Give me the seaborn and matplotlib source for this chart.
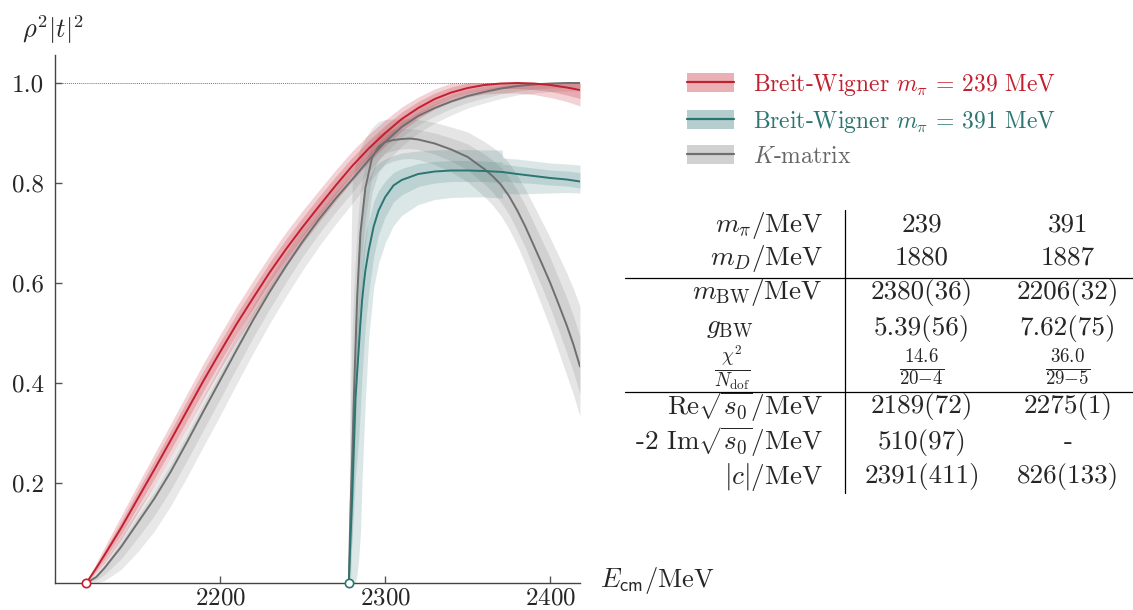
import numpy as np
import pandas as pd
import matplotlib
matplotlib.use("Agg")
import matplotlib.pyplot as plt
import seaborn as sns
from matplotlib.patches import Patch
from matplotlib.lines import Line2D

# ---------------- data ----------------
# m_pi = 239 MeV : Breit-Wigner and K-matrix
E239 = [2119, 2125, 2130, 2140, 2150, 2160, 2170, 2180, 2190, 2200, 2210, 2220, 2230, 2240, 2250, 2260,
        2270, 2280, 2290, 2300, 2310, 2320, 2330, 2340, 2350, 2360, 2370, 2380, 2390, 2400, 2410, 2418]
bw239 = [0.000, 0.030, 0.056, 0.110, 0.168, 0.226, 0.285, 0.345, 0.405, 0.462, 0.518, 0.570, 0.621, 0.668,
         0.712, 0.754, 0.795, 0.834, 0.869, 0.900, 0.928, 0.950, 0.968, 0.981, 0.990, 0.996, 0.999, 1.000,
         0.999, 0.996, 0.991, 0.986]
bw239_err_in = [0, 0.006, 0.009, 0.013, 0.016, 0.018, 0.019, 0.020, 0.020, 0.020, 0.020, 0.020, 0.020, 0.020,
                0.019, 0.019, 0.018, 0.017, 0.016, 0.015, 0.014, 0.013, 0.012, 0.011, 0.010, 0.010, 0.010,
                0.011, 0.012, 0.013, 0.015, 0.017]
bw239_err_out = [0, 0.010, 0.016, 0.024, 0.028, 0.031, 0.033, 0.034, 0.035, 0.035, 0.035, 0.035, 0.034, 0.034,
                 0.033, 0.032, 0.031, 0.030, 0.028, 0.026, 0.024, 0.022, 0.020, 0.019, 0.018, 0.018, 0.019,
                 0.020, 0.022, 0.025, 0.028, 0.032]
km239 = [0.000, 0.012, 0.030, 0.072, 0.120, 0.168, 0.222, 0.282, 0.344, 0.405, 0.466, 0.526, 0.582, 0.634,
         0.683, 0.728, 0.769, 0.807, 0.846, 0.882, 0.912, 0.934, 0.950, 0.963, 0.974, 0.982, 0.989, 0.994,
         0.997, 0.999, 1.000, 1.000]
km239_lo_out = [0, 0.012, 0.025, 0.045, 0.058, 0.065, 0.068, 0.070, 0.070, 0.070, 0.068, 0.066, 0.063, 0.060,
                0.057, 0.054, 0.051, 0.048, 0.045, 0.042, 0.038, 0.034, 0.030, 0.027, 0.024, 0.022, 0.020,
                0.018, 0.017, 0.016, 0.016, 0.016]
km239_lo_in = [0, 0.006, 0.013, 0.024, 0.030, 0.034, 0.036, 0.037, 0.037, 0.037, 0.036, 0.035, 0.034, 0.032,
               0.030, 0.029, 0.027, 0.026, 0.024, 0.022, 0.020, 0.018, 0.016, 0.014, 0.013, 0.012, 0.011,
               0.010, 0.009, 0.009, 0.009, 0.009]
km239_hi_out = [0, 0.008, 0.014, 0.022, 0.026, 0.028, 0.030, 0.030, 0.030, 0.030, 0.030, 0.030, 0.029, 0.028,
                0.027, 0.026, 0.025, 0.024, 0.022, 0.020, 0.018, 0.016, 0.015, 0.014, 0.013, 0.012, 0.011,
                0.010, 0.010, 0.010, 0.010, 0.010]
km239_hi_in = [0, 0.004, 0.007, 0.011, 0.013, 0.014, 0.015, 0.015, 0.015, 0.015, 0.015, 0.015, 0.015, 0.014,
               0.014, 0.013, 0.013, 0.012, 0.011, 0.010, 0.009, 0.008, 0.008, 0.007, 0.007, 0.006, 0.006,
               0.005, 0.005, 0.005, 0.005, 0.005]

# m_pi = 391 MeV : Breit-Wigner
E391 = [2278, 2278.5, 2279, 2280, 2281, 2282, 2283, 2284, 2285, 2286, 2287, 2288, 2290, 2293, 2296, 2300,
        2305, 2310, 2320, 2330, 2340, 2350, 2360, 2371, 2371, 2380, 2390, 2400, 2410, 2418]
bw391 = [0, 0.05, 0.09, 0.17, 0.27, 0.37, 0.42, 0.47, 0.52, 0.565, 0.597, 0.625, 0.665, 0.713, 0.745, 0.772,
         0.795, 0.806, 0.818, 0.823, 0.825, 0.825, 0.824, 0.822, 0.822, 0.818, 0.814, 0.810, 0.807, 0.803]
bw391_lo_out = [0, 0.05, 0.09, 0.17, 0.27, 0.37, 0.40, 0.42, 0.42, 0.36, 0.31, 0.26, 0.175, 0.123, 0.105,
                0.092, 0.080, 0.071, 0.061, 0.056, 0.054, 0.053, 0.052, 0.052, 0.042, 0.040, 0.035, 0.030,
                0.026, 0.023]
bw391_hi_out = [0, 0.02, 0.04, 0.08, 0.12, 0.16, 0.18, 0.20, 0.19, 0.18, 0.17, 0.16, 0.145, 0.117, 0.095,
                0.076, 0.060, 0.054, 0.046, 0.043, 0.042, 0.042, 0.042, 0.044, 0.028, 0.030, 0.030, 0.030,
                0.031, 0.033]
bw391_lo_in = [0, 0.02, 0.04, 0.08, 0.12, 0.16, 0.17, 0.18, 0.17, 0.15, 0.13, 0.11, 0.085, 0.060, 0.048,
               0.040, 0.033, 0.030, 0.025, 0.023, 0.022, 0.022, 0.021, 0.021, 0.018, 0.017, 0.015, 0.014,
               0.013, 0.013]
bw391_hi_in = [0, 0.01, 0.02, 0.04, 0.06, 0.08, 0.085, 0.09, 0.085, 0.08, 0.075, 0.07, 0.060, 0.050, 0.040,
               0.032, 0.026, 0.023, 0.021, 0.020, 0.020, 0.020, 0.020, 0.020, 0.016, 0.016, 0.016, 0.016,
               0.017, 0.018]

# m_pi = 391 MeV : K-matrix
Ekm391 = [2278, 2278.5, 2279, 2280, 2281, 2282, 2283, 2285, 2288, 2292, 2296, 2300, 2305, 2310, 2315, 2320,
          2330, 2340, 2350, 2360, 2365, 2370, 2375, 2380, 2385, 2390, 2395, 2400, 2405, 2410, 2414, 2418]
km391 = [0, 0.08, 0.15, 0.25, 0.37, 0.47, 0.57, 0.70, 0.79, 0.85, 0.873, 0.882, 0.886, 0.888, 0.889, 0.887,
         0.879, 0.867, 0.852, 0.828, 0.814, 0.797, 0.774, 0.745, 0.712, 0.675, 0.638, 0.600, 0.558, 0.515,
         0.477, 0.433]
km391_hi_out = [0, 0.25, 0.45, 0.55, 0.45, 0.37, 0.28, 0.17, 0.10, 0.06, 0.05, 0.045, 0.042, 0.04, 0.04, 0.04,
                0.042, 0.045, 0.05, 0.055, 0.058, 0.062, 0.066, 0.07, 0.075, 0.08, 0.085, 0.09, 0.097, 0.105,
                0.112, 0.12]
km391_lo_out = [0, 0.08, 0.15, 0.15, 0.17, 0.17, 0.17, 0.15, 0.11, 0.07, 0.05, 0.045, 0.042, 0.04, 0.04, 0.04,
                0.042, 0.045, 0.05, 0.055, 0.058, 0.062, 0.066, 0.07, 0.075, 0.08, 0.085, 0.09, 0.095, 0.10,
                0.10, 0.10]
km391_hi_in = [0, 0.10, 0.20, 0.25, 0.22, 0.18, 0.14, 0.09, 0.05, 0.03, 0.025, 0.022, 0.021, 0.02, 0.02, 0.02,
               0.021, 0.023, 0.026, 0.03, 0.032, 0.035, 0.037, 0.04, 0.042, 0.045, 0.047, 0.05, 0.052, 0.055,
               0.057, 0.06]
km391_lo_in = [0, 0.05, 0.08, 0.09, 0.10, 0.10, 0.10, 0.08, 0.06, 0.035, 0.025, 0.022, 0.021, 0.02, 0.02, 0.02,
               0.021, 0.023, 0.026, 0.03, 0.032, 0.035, 0.037, 0.04, 0.042, 0.045, 0.047, 0.05, 0.052, 0.055,
               0.055, 0.055]

thresholds = [2119, 2278]

legend_labels = [r"Breit-Wigner $m_\pi\,=\,239$ MeV", r"Breit-Wigner $m_\pi\,=\,391$ MeV", r"$K$-matrix"]

table_rows = [r"$m_\pi/\mathrm{MeV}$", r"$m_D/\mathrm{MeV}$", r"$m_\mathrm{BW}/\mathrm{MeV}$",
              r"$g_\mathrm{BW}$", r"$\frac{\chi^2}{N_\mathrm{dof}}$", r"$\mathrm{Re}\sqrt{s_0}/\mathrm{MeV}$",
              r"-2 $\mathrm{Im}\sqrt{s_0}/\mathrm{MeV}$", r"$|c|/\mathrm{MeV}$"]
table_239 = ["239", "1880", "2380(36)", "5.39(56)", r"$\frac{14.6}{20{-}4}$", "2189(72)", "510(97)", "2391(411)"]
table_391 = ["391", "1887", "2206(32)", "7.62(75)", r"$\frac{36.0}{29{-}5}$", "2275(1)", "-", "826(133)"]

# ---------------- style ----------------
sns.set_theme(style="ticks")
plt.rcParams.update({
    "font.family": "serif",
    "font.serif": ["cmr10"],
    "mathtext.fontset": "cm",
    "axes.formatter.use_mathtext": True,
    "axes.unicode_minus": False,
})

RED = "#c2202e"
TEAL = "#2b7572"
GRAY = "#6f6f6f"
BAND_GRAY = "#8c8c8c"

W, H = 1133, 610
fig = plt.figure(figsize=(W / 100, H / 100), dpi=100)
ax = fig.add_axes([55 / W, (H - 583) / H, 525 / W, 528 / H])

def arr(x):
    return np.asarray(x, dtype=float)

# bands (K-matrix first, then Breit-Wigner)
e = arr(E239); c = arr(km239)
ax.fill_between(e, c - arr(km239_lo_out), np.minimum(c + arr(km239_hi_out), 1.0), color=BAND_GRAY, alpha=0.2, lw=0, zorder=1)
ax.fill_between(e, c - arr(km239_lo_in), np.minimum(c + arr(km239_hi_in), 1.0), color=BAND_GRAY, alpha=0.2, lw=0, zorder=1)
e = arr(Ekm391); c = arr(km391)
ax.fill_between(e, c - arr(km391_lo_out), np.minimum(c + arr(km391_hi_out), 1.0), color=BAND_GRAY, alpha=0.22, lw=0, zorder=1)
ax.fill_between(e, c - arr(km391_lo_in), np.minimum(c + arr(km391_hi_in), 1.0), color=BAND_GRAY, alpha=0.22, lw=0, zorder=1)
e = arr(E239); c = arr(bw239)
ax.fill_between(e, c - arr(bw239_err_out), np.minimum(c + arr(bw239_err_out), 1.0), color=RED, alpha=0.2, lw=0, zorder=2)
ax.fill_between(e, c - arr(bw239_err_in), np.minimum(c + arr(bw239_err_in), 1.0), color=RED, alpha=0.22, lw=0, zorder=2)
e = arr(E391); c = arr(bw391)
ax.fill_between(e, c - arr(bw391_lo_out), c + arr(bw391_hi_out), color=TEAL, alpha=0.17, lw=0, zorder=2)
ax.fill_between(e, c - arr(bw391_lo_in), c + arr(bw391_hi_in), color=TEAL, alpha=0.17, lw=0, zorder=2)

# central curves via seaborn
df = pd.concat([
    pd.DataFrame({"E": E239, "v": km239, "s": "km239"}),
    pd.DataFrame({"E": Ekm391, "v": km391, "s": "km391"}),
    pd.DataFrame({"E": E391, "v": bw391, "s": "bw391"}),
    pd.DataFrame({"E": E239, "v": bw239, "s": "bw239"}),
], ignore_index=True)
pal = {"km239": GRAY, "km391": GRAY, "bw391": TEAL, "bw239": RED}
sns.lineplot(data=df, x="E", y="v", hue="s", units="s", estimator=None, sort=False,
             palette=pal, lw=1.4, legend=False, ax=ax, zorder=3)

ax.axhline(1.0, ls=(0, (1, 1)), lw=0.7, color="#777777", zorder=0)
ax.plot([thresholds[0]], [0], ls="none", marker="o", ms=6, mfc="white", mec=RED, mew=1.2, clip_on=False, zorder=10)
ax.plot([thresholds[1]], [0], ls="none", marker="o", ms=6, mfc="white", mec=TEAL, mew=1.2, clip_on=False, zorder=11)

ax.set_xlim(2100, 2418)
ax.set_ylim(0, 1.056)
ax.set_xticks([2200, 2300, 2400])
ax.set_yticks([0.2, 0.4, 0.6, 0.8, 1.0])
ax.yaxis.set_major_formatter(matplotlib.ticker.FormatStrFormatter("%.1f"))
ax.set_xlabel("")
ax.set_ylabel("")
for s in ["top", "right"]:
    ax.spines[s].set_visible(False)
for s in ["left", "bottom"]:
    ax.spines[s].set_color("#444444")
    ax.spines[s].set_linewidth(1.0)
ax.tick_params(direction="in", length=5, width=1.0, color="#555555", labelsize=18, pad=8)
ax.tick_params(axis="x", pad=3)

fig.text(53 / W, 1 - 30 / H, r"$\rho^2|t|^2$", fontsize=19, ha="center", va="center")
fig.text(600 / W, 1 - 580 / H, r"$E_\mathsf{cm}/\mathrm{MeV}$", fontsize=19, ha="left", va="center")

# legend
handles = [
    (Patch(facecolor=RED, alpha=0.35, edgecolor="none"), Line2D([], [], color=RED, lw=1.6)),
    (Patch(facecolor=TEAL, alpha=0.35, edgecolor="none"), Line2D([], [], color=TEAL, lw=1.6)),
    (Patch(facecolor=BAND_GRAY, alpha=0.4, edgecolor="none"), Line2D([], [], color=GRAY, lw=1.6)),
]
fig.legend(handles, legend_labels, loc="upper left", bbox_to_anchor=(687 / W, 1 - 72 / H),
           frameon=False, fontsize=17, handlelength=2.0, handleheight=0.85, handletextpad=0.8,
           labelspacing=0.45, borderpad=0, borderaxespad=0, labelcolor=[RED, TEAL, "#666666"])

# table
row_y = [225, 258, 293, 328, 368, 407, 442, 477]
label_x = [823, 823, 823, 753, 750, 823, 823, 823]
for y, lab, lx, a, b in zip(row_y, table_rows, label_x, table_239, table_391):
    fs = 19.5
    fig.text(lx / W, 1 - y / H, lab, fontsize=fs, ha="right", va="center")
    fig.text(922 / W, 1 - y / H, a, fontsize=fs, ha="center", va="center")
    fig.text(1068 / W, 1 - y / H, b, fontsize=fs, ha="center", va="center")
fig.add_artist(Line2D([845 / W, 845 / W], [1 - 210 / H, 1 - 493 / H], color="black", lw=0.9))
for y in [278, 392]:
    fig.add_artist(Line2D([625 / W, 1.0], [1 - y / H, 1 - y / H], color="black", lw=0.9))

fig.savefig("out.png", dpi=100)
